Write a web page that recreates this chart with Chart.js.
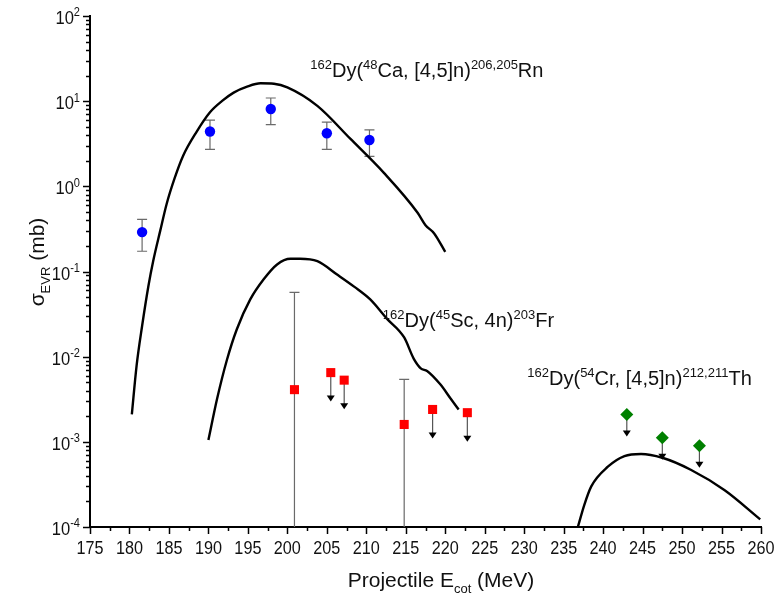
<!DOCTYPE html>
<html>
<head>
<meta charset="utf-8">
<title>162Dy evaporation residue cross sections</title>
<script src="https://cdn.jsdelivr.net/npm/chart.js@4.4.0/dist/chart.umd.min.js"></script>
<style>
  body { margin: 0; background: #fff; }
</style>
</head>
<body>
<canvas id="myChart" width="776" height="601"></canvas>
<script>
// calculated excitation functions (E in MeV, sigma in mb)
const caCurveE = [180.3, 180.9, 181.6, 182.4, 183.0, 183.9, 184.7, 185.7, 186.8, 188.5, 190.2, 191.7, 193.2, 194.9, 196.6, 198.3, 200.0, 203.8, 208.0, 212.2, 216.5, 217.5, 218.6, 220.0];
const caCurveSigma = [0.0021, 0.0078, 0.0229, 0.0676, 0.132, 0.302, 0.617, 1.23, 2.29, 4.37, 7.41, 10.0, 12.6, 14.8, 16.2, 16.0, 14.5, 8.8, 3.6, 1.45, 0.49, 0.35, 0.28, 0.17];

const scCurveE = [190.0, 191.1, 192.35, 193.6, 195.3, 197.0, 198.7, 200.4, 201.6, 203.8, 206.3, 208.5, 210.5, 212.6, 214.8, 216.0, 216.9, 217.7, 219.4, 220.7, 221.7];
const scCurveSigma = [0.00105, 0.0032, 0.0092, 0.021, 0.047, 0.081, 0.121, 0.141, 0.141, 0.132, 0.092, 0.066, 0.047, 0.028, 0.0168, 0.0095, 0.0073, 0.0068, 0.0047, 0.0032, 0.0024];

const crCurveE = [236.8, 237.6, 238.5, 240.6, 242.7, 244.8, 247.5, 251.1, 255.4, 259.9];
const crCurveSigma = [0.0001, 0.00018, 0.0003, 0.00051, 0.00068, 0.00072, 0.00065, 0.00047, 0.00027, 0.000123];

// measured points
const caExpE = [181.6, 190.2, 197.9, 205.0, 210.4];
const caExpSigma = [0.29, 4.4, 8.1, 4.2, 3.5];
const caErrLow = [0.173, 2.72, 5.3, 2.72, 2.25];
const caErrHigh = [0.41, 6.0, 10.9, 5.66, 4.6];

const scExpE = [200.9, 205.5, 207.2, 214.8, 218.4, 222.8];
const scExpSigma = [0.0041, 0.0065, 0.0053, 0.0016, 0.0024, 0.0022];
const scErrLow = [0, null, null, 0, null, null];      // 0 = runs off the bottom of the axis
const scErrHigh = [0.057, null, null, 0.0054, null, null];
const scUpperLimit = [false, true, true, false, true, true];

const crExpE = [243.0, 247.5, 252.2];
const crExpSigma = [0.0021, 0.00112, 0.0009];
const crUpperLimit = [true, true, true];

// axes
const energyTicks = [175, 180, 185, 190, 195, 200, 205, 210, 215, 220, 225, 230, 235, 240, 245, 250, 255, 260];
const sigmaDecades = [-4, -3, -2, -1, 0, 1, 2];

const FONT = '"Liberation Sans", Arial, sans-serif';

// draws text with ^{sup} and _{sub} pieces; squeeze < 1 condenses it
function richText(ctx, x, y, src, size, align, squeeze) {
  const parts = [];
  src.replace(/([\^_])\{([^}]*)\}|([^\^_]+)/g, (m, mark, inner, plain) => {
    if (mark) parts.push({ t: inner, s: mark === '^' ? 1 : -1 });
    else parts.push({ t: plain, s: 0 });
  });
  ctx.save();
  ctx.translate(x, y);
  ctx.scale(squeeze || 1, 1);
  ctx.fillStyle = '#111';
  ctx.textBaseline = 'alphabetic';
  ctx.textAlign = 'left';
  const small = Math.round(size * 0.64);
  const widths = parts.map(p => {
    ctx.font = (p.s ? small : size) + 'px ' + FONT;
    return ctx.measureText(p.t).width;
  });
  const total = widths.reduce((a, b) => a + b, 0);
  let cx = align === 'center' ? -total / 2 : align === 'right' ? -total : 0;
  parts.forEach((p, i) => {
    ctx.font = (p.s ? small : size) + 'px ' + FONT;
    const dy = p.s === 1 ? -size * 0.42 : p.s === -1 ? size * 0.28 : 0;
    ctx.fillText(p.t, cx, dy);
    cx += widths[i];
  });
  ctx.restore();
}

const toPoints = (xs, ys) => xs.map((x, i) => ({ x: x, y: ys[i] }));

// error bars and upper-limit arrows under the markers
const barsPlugin = {
  id: 'bars',
  beforeDatasetsDraw(chart) {
    const { ctx, chartArea, scales: { x, y } } = chart;
    ctx.save();
    ctx.beginPath();
    ctx.rect(chartArea.left, chartArea.top, chartArea.right - chartArea.left, chartArea.bottom - chartArea.top);
    ctx.clip();

    function errBar(e, lo, hi) {
      const px = x.getPixelForValue(e);
      const top = y.getPixelForValue(hi);
      const bot = lo === 0 ? chartArea.bottom + 2 : y.getPixelForValue(lo);
      ctx.strokeStyle = '#6a6a6a';
      ctx.lineWidth = 1.2;
      ctx.beginPath();
      ctx.moveTo(px, top); ctx.lineTo(px, bot);
      ctx.moveTo(px - 5, top); ctx.lineTo(px + 5, top);
      if (lo !== 0) { ctx.moveTo(px - 5, bot); ctx.lineTo(px + 5, bot); }
      ctx.stroke();
    }
    function arrow(e, s, len) {
      const px = x.getPixelForValue(e);
      const py = y.getPixelForValue(s);
      ctx.strokeStyle = '#555';
      ctx.lineWidth = 1.2;
      ctx.beginPath();
      ctx.moveTo(px, py); ctx.lineTo(px, py + len - 5);
      ctx.stroke();
      ctx.fillStyle = '#000';
      ctx.beginPath();
      ctx.moveTo(px - 4, py + len - 6);
      ctx.lineTo(px + 4, py + len - 6);
      ctx.lineTo(px, py + len);
      ctx.closePath();
      ctx.fill();
    }

    caExpE.forEach((e, i) => errBar(e, caErrLow[i], caErrHigh[i]));
    scExpE.forEach((e, i) => {
      if (scErrHigh[i] !== null) errBar(e, scErrLow[i], scErrHigh[i]);
      if (scUpperLimit[i]) arrow(e, scExpSigma[i], 29);
    });
    crExpE.forEach((e, i) => { if (crUpperLimit[i]) arrow(e, crExpSigma[i], 22); });
    ctx.restore();
  }
};

// ticks, tick labels, axis titles and reaction labels
const axisPlugin = {
  id: 'axisDecor',
  afterDraw(chart) {
    const { ctx, chartArea, scales: { x, y } } = chart;
    ctx.save();
    ctx.strokeStyle = '#000';
    ctx.lineWidth = 1.5;
    ctx.beginPath();
    for (let v = energyTicks[0]; v <= energyTicks[energyTicks.length - 1]; v += 2.5) {
      const px = Math.round(x.getPixelForValue(v)) + 0.5;
      const len = v % 5 === 0 ? 7 : 4;
      ctx.moveTo(px, chartArea.bottom);
      ctx.lineTo(px, chartArea.bottom + len);
    }
    sigmaDecades.forEach(d => {
      const base = Math.pow(10, d);
      const py = Math.round(y.getPixelForValue(base)) + 0.5;
      ctx.moveTo(chartArea.left, py);
      ctx.lineTo(chartArea.left - 7, py);
      if (d < sigmaDecades[sigmaDecades.length - 1]) {
        for (let k = 2; k <= 9; k++) {
          const pm = Math.round(y.getPixelForValue(k * base)) + 0.5;
          ctx.moveTo(chartArea.left, pm);
          ctx.lineTo(chartArea.left - 4, pm);
        }
      }
    });
    ctx.stroke();
    ctx.restore();

    energyTicks.forEach(v => {
      richText(ctx, x.getPixelForValue(v), chartArea.bottom + 27, String(v), 18, 'center', 0.9);
    });
    sigmaDecades.forEach(d => {
      richText(ctx, chartArea.left - 10, y.getPixelForValue(Math.pow(10, d)) + 8, '10^{' + d + '}', 18, 'right', 0.92);
    });

    richText(ctx, 441, 587, 'Projectile E_{cot} (MeV)', 21, 'center');

    ctx.save();
    ctx.translate(44, 262);
    ctx.rotate(-Math.PI / 2);
    richText(ctx, 0, 0, '\u03c3_{EVR} (mb)', 21, 'center');
    ctx.restore();

    richText(ctx, x.getPixelForValue(202.9), y.getPixelForValue(19.2), '^{162}Dy(^{48}Ca, [4,5]n)^{206,205}Rn', 20, 'left');
    richText(ctx, x.getPixelForValue(212.1), y.getPixelForValue(0.0223), '^{162}Dy(^{45}Sc, 4n)^{203}Fr', 20, 'left');
    richText(ctx, x.getPixelForValue(230.4), y.getPixelForValue(0.00465), '^{162}Dy(^{54}Cr, [4,5]n)^{212,211}Th', 20, 'left');
  }
};

const ctx = document.getElementById('myChart');

new Chart(ctx, {
  type: 'scatter',
  data: {
    datasets: [
      { type: 'line', data: toPoints(caCurveE, caCurveSigma), borderColor: '#000', borderWidth: 2.4, pointRadius: 0, cubicInterpolationMode: 'monotone', fill: false },
      { type: 'line', data: toPoints(scCurveE, scCurveSigma), borderColor: '#000', borderWidth: 2.4, pointRadius: 0, cubicInterpolationMode: 'monotone', fill: false },
      { type: 'line', data: toPoints(crCurveE, crCurveSigma), borderColor: '#000', borderWidth: 2.4, pointRadius: 0, cubicInterpolationMode: 'monotone', fill: false },
      { data: toPoints(caExpE, caExpSigma), pointStyle: 'circle', pointRadius: 5.2, backgroundColor: '#0000ff', borderColor: '#0000ff', borderWidth: 0 },
      { data: toPoints(scExpE, scExpSigma), pointStyle: 'rect', pointRadius: 6.4, backgroundColor: '#ff0000', borderColor: '#ff0000', borderWidth: 0 },
      { data: toPoints(crExpE, crExpSigma), pointStyle: 'rectRot', pointRadius: 6.5, backgroundColor: '#008000', borderColor: '#008000', borderWidth: 0 }
    ]
  },
  options: {
    responsive: false,
    animation: false,
    devicePixelRatio: 1,
    layout: { padding: { top: 16, right: 15, left: 0, bottom: 0 } },
    plugins: {
      legend: { display: false },
      tooltip: { enabled: false }
    },
    scales: {
      x: {
        type: 'linear',
        min: 175,
        max: 260,
        grid: { display: false },
        ticks: { display: false },
        border: { display: true, color: '#000', width: 2 },
        afterFit(scale) { scale.height = 74; }
      },
      y: {
        type: 'logarithmic',
        min: 1e-4,
        max: 1e2,
        grid: { display: false },
        ticks: { display: false },
        border: { display: true, color: '#000', width: 2 },
        afterFit(scale) { scale.width = 90; }
      }
    }
  },
  plugins: [barsPlugin, axisPlugin]
});
</script>
</body>
</html>
